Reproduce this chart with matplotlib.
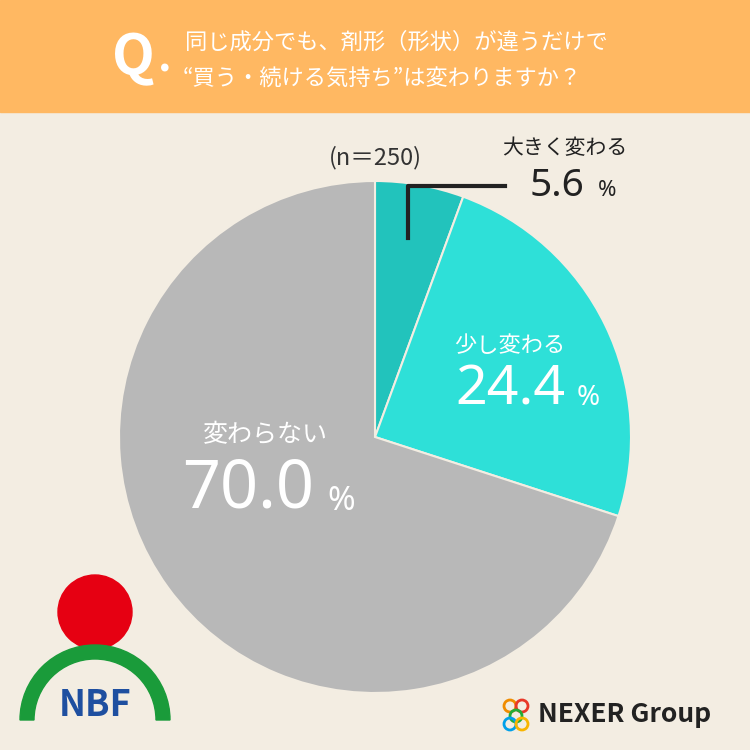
import matplotlib
matplotlib.use("Agg")
import matplotlib.pyplot as plt
from matplotlib.patches import Rectangle, Circle, Wedge

plt.rcParams['font.family'] = ['Noto Sans CJK JP', 'DejaVu Sans']
NUM = ['Noto Sans', 'DejaVu Sans']

labels = ["大きく変わる", "少し変わる", "変わらない"]
values = [5.6, 24.4, 70.0]
colors = ["#22C3BC", "#2EE0D8", "#B8B8B8"]

fig = plt.figure(figsize=(7.5, 7.5), dpi=100)
fig.patch.set_facecolor("#F3EDE2")
bg = fig.add_axes([0, 0, 1, 1]); bg.set_xlim(0, 750); bg.set_ylim(750, 0); bg.axis("off")
bg.add_patch(Rectangle((0, 0), 750, 112, color="#FFB862"))

ax = fig.add_axes([(375-256)/750, 1-(437+256)/750, 512/750, 512/750])
ax.pie(values, colors=colors, startangle=90, counterclock=False, radius=1,
       wedgeprops=dict(edgecolor="#F3EDE2", linewidth=1.5))
ax.set_xlim(-1, 1); ax.set_ylim(-1, 1)
ax.set_aspect("equal")

fg = fig.add_axes([0, 0, 1, 1]); fg.set_xlim(0, 750); fg.set_ylim(750, 0); fg.axis("off")
fg.patch.set_alpha(0)
fg.text(112, 58, "Q", fontsize=40, color="white", weight="bold", va="center", ha="left")
fg.text(158, 80, ".", fontsize=30, color="white", weight="bold", va="bottom")
fg.text(185, 42, "同じ成分でも、剤形（形状）が違うだけで", fontsize=16, color="white", va="center")
fg.text(183, 78, "“買う・続ける気持ち”は変わりますか？", fontsize=16, color="white", va="center")
fg.text(375, 158, "(n＝250)", fontsize=17, color="#333333", ha="center", va="center")

fg.plot([408, 408, 505], [238, 186, 186], color="#222222", lw=3)
fg.text(565, 148, labels[0], fontsize=15, color="#222222", ha="center", va="center")
fg.text(557, 186, "5.6", fontsize=28, color="#222222", ha="center", va="center", family=NUM, weight="medium")
fg.text(607, 190, "%", fontsize=16, color="#222222", ha="center", va="center", family=NUM)

fg.text(510, 345, labels[1], fontsize=16, color="white", ha="center", va="center")
fg.text(510, 390, "24.4", fontsize=40, color="white", ha="center", va="center", family=NUM)
fg.text(588, 398, "%", fontsize=20, color="white", ha="center", va="center", family=NUM)

fg.text(265, 435, labels[2], fontsize=18, color="white", ha="center", va="center")
fg.text(248, 490, "70.0", fontsize=48, color="white", ha="center", va="center", family=NUM)
fg.text(341, 502, "%", fontsize=24, color="white", ha="center", va="center", family=NUM)

fg.add_patch(Circle((95, 612), 37, color="#E60012"))
fg.add_patch(Wedge((95, 720), 75, 180, 360, width=14, color="#1A9B3A"))
fg.text(95, 705, "NBF", fontsize=26, color="#1E4FA0", weight="bold", ha="center", va="center")

for (cx, cy, c) in [(510, 706, "#F08C00"), (522, 706, "#E83828"), (516, 716, "#22AC38"), (510, 724, "#00A0E9"), (522, 724, "#F8B500")]:
    fg.add_patch(Circle((cx, cy), 6, fill=False, ec=c, lw=2))
fg.text(538, 714, "NEXER Group", fontsize=19, color="#222222", weight="bold", va="center", ha="left")

fig.savefig("out.png", dpi=100, facecolor=fig.get_facecolor())
